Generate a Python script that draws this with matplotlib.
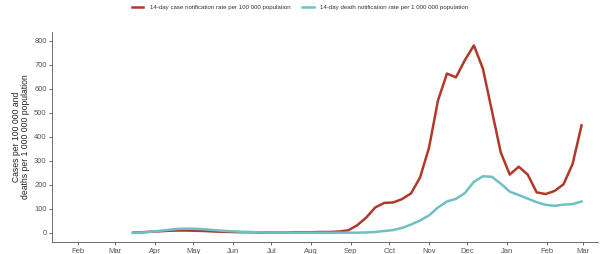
import numpy as np
import pandas as pd
import matplotlib.pyplot as plt
import matplotlib.dates as mdates

plt.rcParams['font.family'] = ['Liberation Sans', 'DejaVu Sans']

# weekly values, mid-March 2020 to end of February 2021
weeks = pd.date_range("2020-03-15", "2021-02-28", freq="7D")

cases = [1, 3, 5, 7, 9, 10, 10, 9, 8, 6, 5, 4, 3, 3, 2, 2, 2, 2, 3, 3,
         3, 4, 4, 6, 11, 32, 64, 106, 125, 127, 141, 165, 231, 355, 552,
         664, 648, 720, 781, 685, 510, 335, 243, 276, 243, 169, 162, 175,
         203, 287, 448]
deaths = [0, 2, 5, 9, 13, 17, 18, 17, 15, 12, 9, 7, 5, 4, 3, 2, 2, 2, 1, 1,
          1, 1, 1, 1, 1, 1, 2, 4, 8, 12, 21, 35, 52, 73, 106, 131, 142, 166,
          213, 236, 234, 205, 172, 158, 143, 128, 117, 113, 118, 120, 131]

case_label = "14-day case notification rate per 100 000 population"
death_label = "14-day death notification rate per 1 000 000 population"

fig = plt.figure(figsize=(6, 2.54), dpi=100)
axe = fig.add_axes([0.087, 0.047, 0.91, 0.827])

axe.plot(weeks, cases, color="#b0392b", lw=1.8, label=case_label)
axe.plot(weeks, deaths, color="#6fc0c4", lw=1.8, label=death_label)

axe.set_xlim(pd.Timestamp("2020-01-12"), pd.Timestamp("2021-03-13"))
axe.set_ylim(-38, 837)
axe.set_yticks(np.arange(0, 801, 100))
axe.xaxis.set_major_locator(mdates.MonthLocator(bymonthday=1))
axe.xaxis.set_major_formatter(mdates.DateFormatter("%b"))

for s in ["top", "right"]:
    axe.spines[s].set_visible(False)
for s in ["left", "bottom"]:
    axe.spines[s].set_color("#555555")
    axe.spines[s].set_linewidth(0.6)
axe.tick_params(labelsize=5.5, colors="#555555", length=2.5, width=0.6, pad=1.5)

axe.set_ylabel("Cases per 100 000 and\ndeaths per 1 000 000 population",
               fontsize=6.2, color="#222222", labelpad=3, linespacing=1.0)

fig.legend(loc="center", bbox_to_anchor=(0.5, 0.972),
           ncol=2, frameon=False, fontsize=4.4, handlelength=1.9,
           columnspacing=2.0, handletextpad=1.0, labelcolor="#333333")

fig.savefig("out.png", dpi=100)
